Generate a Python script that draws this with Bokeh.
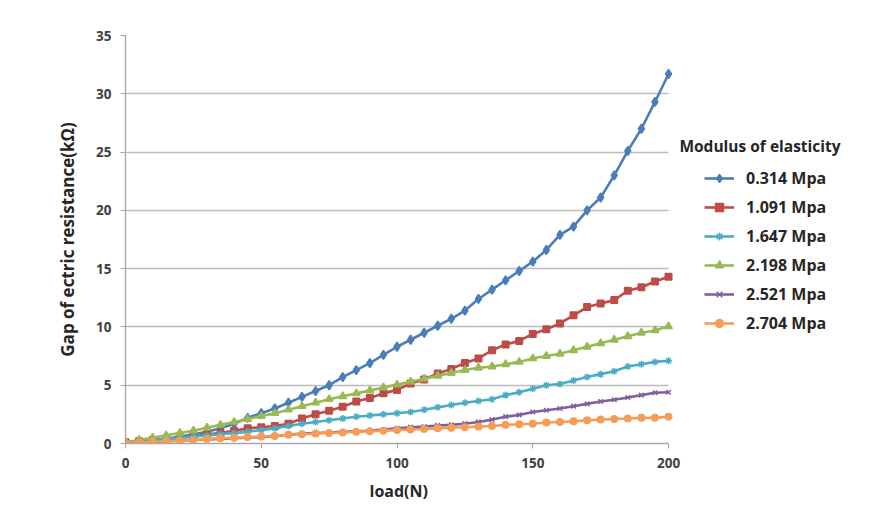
from bokeh.plotting import figure
from bokeh.models import Legend, LegendItem, Label, Range1d, FixedTicker, Title
from bokeh.embed import file_html
from bokeh.resources import INLINE

load = list(range(0, 201, 5))

e0314 = [0.1, 0.2, 0.3, 0.4, 0.6, 0.8, 1.0, 1.3, 1.7, 2.2, 2.6, 3.0, 3.5, 4.0, 4.5, 5.0, 5.7,
         6.3, 6.9, 7.6, 8.3, 8.9, 9.5, 10.1, 10.7, 11.4, 12.4, 13.2, 14.0, 14.8, 15.6, 16.6,
         17.9, 18.6, 20.0, 21.1, 23.0, 25.1, 27.0, 29.3, 31.7]
e1091 = [0.1, 0.2, 0.3, 0.4, 0.5, 0.6, 0.8, 0.9, 1.1, 1.3, 1.4, 1.5, 1.7, 2.15, 2.5, 2.8, 3.15,
         3.6, 3.9, 4.3, 4.6, 5.15, 5.5, 6.0, 6.4, 6.9, 7.3, 8.0, 8.5, 8.8, 9.4, 9.8, 10.3, 11.0,
         11.7, 12.0, 12.3, 13.1, 13.4, 13.9, 14.3]
e1647 = [0.1, 0.2, 0.3, 0.4, 0.5, 0.6, 0.7, 0.8, 0.9, 1.0, 1.15, 1.3, 1.5, 1.7, 1.85, 2.0, 2.15,
         2.3, 2.4, 2.5, 2.6, 2.7, 2.9, 3.1, 3.3, 3.5, 3.65, 3.8, 4.15, 4.4, 4.7, 5.0, 5.1, 5.4,
         5.7, 5.95, 6.2, 6.6, 6.8, 7.0, 7.1]
e2198 = [0.1, 0.3, 0.5, 0.7, 0.9, 1.1, 1.35, 1.6, 1.85, 2.1, 2.35, 2.6, 2.9, 3.2, 3.5, 3.8, 4.05,
         4.3, 4.55, 4.8, 5.05, 5.3, 5.55, 5.8, 6.05, 6.3, 6.5, 6.6, 6.8, 7.0, 7.3, 7.5, 7.7, 8.0,
         8.3, 8.6, 8.9, 9.2, 9.5, 9.7, 10.05]
e2521 = [0.05, 0.1, 0.15, 0.2, 0.25, 0.3, 0.35, 0.4, 0.45, 0.5, 0.55, 0.65, 0.75, 0.85, 0.9, 0.95,
         1.0, 1.05, 1.1, 1.2, 1.3, 1.4, 1.45, 1.55, 1.6, 1.7, 1.85, 2.05, 2.3, 2.45, 2.7, 2.85,
         3.0, 3.2, 3.4, 3.6, 3.75, 3.95, 4.15, 4.35, 4.4]
e2704 = [0.05, 0.1, 0.15, 0.2, 0.25, 0.3, 0.4, 0.45, 0.5, 0.55, 0.6, 0.65, 0.75, 0.8, 0.85, 0.9,
         0.95, 1.0, 1.05, 1.1, 1.15, 1.2, 1.25, 1.3, 1.35, 1.4, 1.45, 1.5, 1.6, 1.65, 1.7, 1.8,
         1.85, 1.9, 2.0, 2.05, 2.1, 2.15, 2.2, 2.2, 2.3]

series_names = ["0.314 Mpa", "1.091 Mpa", "1.647 Mpa", "2.198 Mpa", "2.521 Mpa", "2.704 Mpa"]
series_values = [e0314, e1091, e1647, e2198, e2521, e2704]
colors = ["#4A7EBB", "#BE4B48", "#4BACC6", "#98B954", "#7D60A0", "#F59D56"]
markers = ["diamond", "square", "asterisk", "triangle", "x", "circle"]
sizes = [9, 6.5, 7, 7.5, 6.5, 6.5]

x_ticks = [0, 50, 100, 150, 200]
y_ticks = [0, 5, 10, 15, 20, 25, 30, 35]
x_title = "load(N)"
y_title = "Gap of ectric resistance(kΩ)"
legend_title = "Modulus of elasticity"

X_MIN, X_MAX = 0, 200
X_VIEW_END = 270.7   # extra room on the right of the plot area for the legend
Y_MIN, Y_MAX = 0, 35

FONT = "Open Sans"
TXT = "#404040"

p = figure(width=870, height=508, output_backend="svg", toolbar_location=None,
           x_range=Range1d(X_MIN, X_VIEW_END), y_range=Range1d(Y_MIN, Y_MAX),
           min_border_left=125, min_border_right=10, min_border_top=35, min_border_bottom=65)
p.outline_line_color = None
p.background_fill_color = "white"
p.border_fill_color = "white"

p.xgrid.visible = False
p.ygrid.grid_line_color = "#BDBDBD"
p.ygrid.grid_line_width = 1.3
try:
    p.ygrid.cross_bounds = (X_MIN, X_MAX)
except Exception:
    p.ygrid.visible = False
    p.segment(x0=X_MIN, x1=X_MAX, y0=y_ticks[1:], y1=y_ticks[1:],
              line_color="#BDBDBD", line_width=1.3, level="underlay")

p.xaxis.ticker = FixedTicker(ticks=x_ticks)
p.yaxis.ticker = FixedTicker(ticks=y_ticks)
p.xaxis.bounds = (X_MIN, X_MAX)
for ax in (p.xaxis[0], p.yaxis[0]):
    ax.axis_line_color = "#A6A6A6"
    ax.axis_line_width = 1.3
    ax.major_tick_line_color = "#A6A6A6"
    ax.major_tick_in = 0
    ax.major_tick_out = 5
    ax.minor_tick_line_color = None
    ax.major_label_text_font = FONT
    ax.major_label_text_font_style = "bold"
    ax.major_label_text_font_size = "13.5px"
    ax.major_label_text_color = TXT
    ax.axis_label_text_font = FONT
    ax.axis_label_text_font_style = "bold"
    ax.axis_label_text_color = "#262626"

p.xaxis.major_label_standoff = 9
p.yaxis.axis_label = y_title
p.yaxis.axis_label_text_font_size = "17px"
p.yaxis.major_label_standoff = 9
p.yaxis.axis_label_standoff = 14

# x-axis title centred under the 0..200 axis (the plot area extends further right for the legend)
xt = Title(text=x_title, align="left", offset=244, standoff=14,
           text_font=FONT, text_font_style="bold", text_font_size="16px",
           text_color="#262626")
p.add_layout(xt, "below")

items = []
for name, vals, c, m, s in zip(series_names, series_values, colors, markers, sizes):
    r1 = p.line(load, vals, line_color=c, line_width=2.6)
    r2 = p.scatter(load, vals, marker=m, size=s, fill_color=c, line_color=c, line_width=1.5)
    items.append(LegendItem(label=name, renderers=[r1, r2]))

legend = Legend(items=items, location=(579, 109), padding=0, margin=0, spacing=7,
                glyph_width=30, glyph_height=20, label_height=20, label_standoff=12,
                border_line_color=None, background_fill_alpha=0,
                label_text_font=FONT, label_text_font_style="bold",
                label_text_font_size="16px", label_text_color="#262626")
p.add_layout(legend)

title = Label(x=204, y=25.55, text=legend_title, text_font=FONT,
              text_font_style="bold", text_font_size="15.5px", text_color="#262626",
              text_baseline="middle", text_align="left")
p.add_layout(title)

open("out.html", "w").write(file_html(p, INLINE))
